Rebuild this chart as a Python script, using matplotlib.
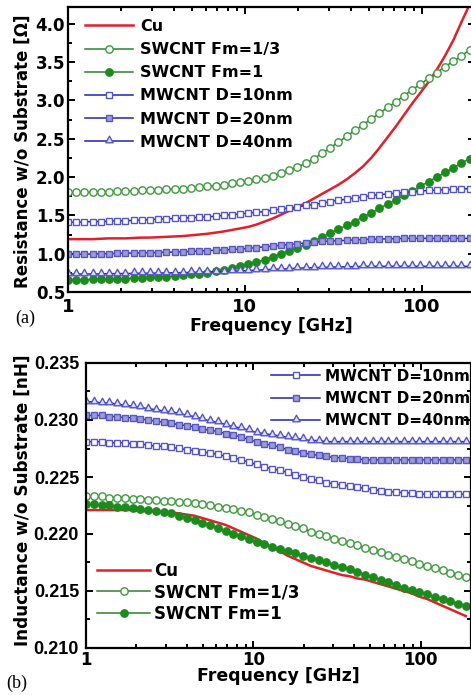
import matplotlib
matplotlib.use("Agg")
import matplotlib.pyplot as plt
from matplotlib.ticker import MultipleLocator, FixedLocator, LogLocator, NullFormatter, FormatStrFormatter
from matplotlib.path import Path

# ---------------- data ----------------
freq_ghz = [1.000, 1.113, 1.238, 1.377, 1.532, 1.705, 1.897, 2.110, 2.348, 2.612,
            2.906, 3.233, 3.597, 4.002, 4.453, 4.954, 5.512, 6.133, 6.823, 7.591,
            8.445, 9.395, 10.45, 11.63, 12.94, 14.39, 16.02, 17.82, 19.82, 22.06,
            24.54, 27.30, 30.38, 33.80, 37.60, 41.83, 46.55, 51.79, 57.61, 64.10,
            71.32, 79.35, 88.28, 98.18, 109.2, 121.5, 135.2, 150.4, 167.4, 186.2]

# (a) resistance [Ohm]
res_cu = [1.19, 1.19, 1.19, 1.19, 1.195, 1.20, 1.20, 1.20, 1.205, 1.21,
          1.21, 1.215, 1.22, 1.225, 1.23, 1.24, 1.25, 1.26, 1.275, 1.29,
          1.31, 1.33, 1.35, 1.38, 1.42, 1.46, 1.51, 1.56, 1.61, 1.66,
          1.72, 1.78, 1.84, 1.90, 1.97, 2.05, 2.14, 2.25, 2.38, 2.52,
          2.66, 2.81, 2.96, 3.10, 3.24, 3.40, 3.58, 3.78, 4.02, 4.25]
res_sw13 = [1.80, 1.80, 1.80, 1.805, 1.81, 1.81, 1.815, 1.82, 1.82, 1.825,
            1.83, 1.835, 1.84, 1.845, 1.85, 1.86, 1.87, 1.88, 1.89, 1.90,
            1.92, 1.93, 1.95, 1.97, 1.99, 2.02, 2.05, 2.09, 2.13, 2.18,
            2.24, 2.31, 2.38, 2.46, 2.53, 2.61, 2.68, 2.76, 2.83, 2.91,
            2.98, 3.06, 3.14, 3.21, 3.29, 3.36, 3.44, 3.51, 3.58, 3.66]
res_sw1 = [0.66, 0.66, 0.66, 0.665, 0.665, 0.67, 0.67, 0.675, 0.68, 0.685,
           0.69, 0.695, 0.70, 0.71, 0.72, 0.73, 0.74, 0.75, 0.77, 0.79,
           0.81, 0.84, 0.86, 0.89, 0.92, 0.96, 1.00, 1.04, 1.08, 1.12,
           1.17, 1.22, 1.27, 1.32, 1.37, 1.42, 1.48, 1.53, 1.59, 1.65,
           1.70, 1.76, 1.82, 1.88, 1.94, 2.00, 2.06, 2.12, 2.18, 2.24]
res_mw10 = [1.41, 1.41, 1.415, 1.42, 1.42, 1.425, 1.43, 1.43, 1.435, 1.44,
            1.445, 1.45, 1.455, 1.46, 1.465, 1.47, 1.475, 1.48, 1.49, 1.50,
            1.51, 1.52, 1.53, 1.54, 1.55, 1.57, 1.58, 1.60, 1.61, 1.63,
            1.64, 1.66, 1.68, 1.70, 1.71, 1.73, 1.74, 1.76, 1.77, 1.78,
            1.79, 1.80, 1.81, 1.82, 1.825, 1.83, 1.835, 1.84, 1.845, 1.85]
res_mw20 = [0.99, 0.99, 0.995, 0.995, 1.00, 1.00, 1.005, 1.005, 1.01, 1.01,
            1.015, 1.015, 1.02, 1.02, 1.025, 1.03, 1.035, 1.04, 1.045, 1.05,
            1.055, 1.06, 1.07, 1.08, 1.09, 1.10, 1.11, 1.12, 1.13, 1.14,
            1.15, 1.16, 1.165, 1.17, 1.175, 1.18, 1.185, 1.19, 1.19, 1.195,
            1.195, 1.20, 1.20, 1.20, 1.20, 1.20, 1.20, 1.20, 1.20, 1.20]
res_mw40 = [0.735, 0.735, 0.735, 0.735, 0.737, 0.739, 0.740, 0.741, 0.743, 0.745,
            0.745, 0.747, 0.749, 0.751, 0.753, 0.755, 0.757, 0.760, 0.763, 0.765,
            0.770, 0.775, 0.780, 0.785, 0.790, 0.795, 0.800, 0.805, 0.810, 0.815,
            0.818, 0.821, 0.825, 0.827, 0.829, 0.831, 0.833, 0.835, 0.835, 0.835,
            0.835, 0.835, 0.835, 0.835, 0.835, 0.835, 0.835, 0.835, 0.835, 0.835]

# (b) inductance [nH]
ind_cu = [0.2221, 0.2221, 0.2221, 0.2221, 0.2221, 0.2221, 0.2221, 0.2220, 0.2220, 0.2220,
          0.2219, 0.2219, 0.2218, 0.2217, 0.2216, 0.2214, 0.2212, 0.2210, 0.2208, 0.2205,
          0.2202, 0.2199, 0.2196, 0.2192, 0.2188, 0.2185, 0.2181, 0.2178, 0.2175, 0.2172,
          0.2170, 0.2168, 0.2166, 0.2164, 0.2163, 0.2161, 0.2160, 0.2158, 0.2156, 0.2154,
          0.2152, 0.2150, 0.2148, 0.2145, 0.2143, 0.2140, 0.2137, 0.2134, 0.2131, 0.2128]
ind_sw13 = [0.2233, 0.2233, 0.2233, 0.2232, 0.2232, 0.2232, 0.2231, 0.2231, 0.2230, 0.2230,
            0.2229, 0.2229, 0.2228, 0.2228, 0.2227, 0.2226, 0.2225, 0.2224, 0.2223, 0.2222,
            0.2220, 0.2219, 0.2217, 0.2215, 0.2213, 0.2211, 0.2209, 0.2207, 0.2205, 0.2202,
            0.2200, 0.2198, 0.2196, 0.2194, 0.2192, 0.2190, 0.2188, 0.2186, 0.2184, 0.2182,
            0.2180, 0.2178, 0.2176, 0.2174, 0.2172, 0.2170, 0.2168, 0.2166, 0.2164, 0.2162]
ind_sw1 = [0.2226, 0.2226, 0.2225, 0.2225, 0.2224, 0.2224, 0.2223, 0.2222, 0.2221, 0.2220,
           0.2219, 0.2218, 0.2216, 0.2214, 0.2212, 0.2210, 0.2208, 0.2205, 0.2203, 0.2200,
           0.2198, 0.2196, 0.2193, 0.2191, 0.2189, 0.2187, 0.2185, 0.2183, 0.2181, 0.2179,
           0.2177, 0.2175, 0.2173, 0.2171, 0.2169, 0.2167, 0.2164, 0.2162, 0.2160, 0.2158,
           0.2155, 0.2153, 0.2151, 0.2149, 0.2147, 0.2145, 0.2143, 0.2141, 0.2139, 0.2137]
ind_mw10 = [0.2281, 0.2281, 0.2281, 0.2280, 0.2280, 0.2280, 0.2279, 0.2279, 0.2278, 0.2277,
            0.2277, 0.2276, 0.2275, 0.2274, 0.2273, 0.2272, 0.2271, 0.2270, 0.2268, 0.2267,
            0.2265, 0.2263, 0.2261, 0.2259, 0.2257, 0.2256, 0.2254, 0.2252, 0.2250, 0.2248,
            0.2247, 0.2245, 0.2244, 0.2243, 0.2242, 0.2241, 0.2240, 0.2239, 0.2238, 0.2237,
            0.2237, 0.2236, 0.2236, 0.2235, 0.2235, 0.2235, 0.2235, 0.2235, 0.2235, 0.2235]
ind_mw20 = [0.2304, 0.2304, 0.2304, 0.2303, 0.2303, 0.2302, 0.2302, 0.2301, 0.2300, 0.2299,
            0.2298, 0.2297, 0.2296, 0.2295, 0.2294, 0.2292, 0.2291, 0.2290, 0.2288, 0.2287,
            0.2285, 0.2283, 0.2281, 0.2279, 0.2278, 0.2276, 0.2274, 0.2273, 0.2271, 0.2270,
            0.2269, 0.2268, 0.2267, 0.2267, 0.2266, 0.2266, 0.2265, 0.2265, 0.2265, 0.2265,
            0.2265, 0.2265, 0.2265, 0.2265, 0.2265, 0.2265, 0.2265, 0.2265, 0.2265, 0.2265]
ind_mw40 = [0.2316, 0.2316, 0.2315, 0.2315, 0.2314, 0.2313, 0.2312, 0.2311, 0.2310, 0.2309,
            0.2308, 0.2307, 0.2306, 0.2304, 0.2303, 0.2301, 0.2299, 0.2298, 0.2296, 0.2294,
            0.2293, 0.2291, 0.2289, 0.2288, 0.2287, 0.2286, 0.2285, 0.2284, 0.2283, 0.2282,
            0.2282, 0.2281, 0.2281, 0.2281, 0.2281, 0.2281, 0.2281, 0.2281, 0.2281, 0.2281,
            0.2281, 0.2281, 0.2281, 0.2281, 0.2281, 0.2281, 0.2281, 0.2281, 0.2281, 0.2281]

label_cu = "Cu"
label_sw13 = "SWCNT Fm=1/3"
label_sw1 = "SWCNT Fm=1"
label_mw10 = "MWCNT D=10nm"
label_mw20 = "MWCNT D=20nm"
label_mw40 = "MWCNT D=40nm"
xticks = [1, 10, 100]
xticklabels = ["1", "10", "100"]

# ---------------- style ----------------
SANS = ['DejaVu Sans']
NARROW = ['Liberation Sans', 'DejaVu Sans']
plt.rcParams['font.family'] = SANS
plt.rcParams['font.weight'] = 'bold'

C_RED = '#e3202a'
C_GL = '#2f7f2f'
C_GM = '#3f9a3f'
C_GF = '#1b8c1b'
C_BL = '#2323b0'
C_BM = '#5656c6'
C_BF20 = '#9c9cd2'
C_BF40 = '#dedef6'

# triangle marker with its base near the data point (line runs along the base)
tri = Path([(-1.0, -0.35), (1.0, -0.35), (0.0, 1.45), (-1.0, -0.35)],
           [Path.MOVETO, Path.LINETO, Path.LINETO, Path.CLOSEPOLY])

W, H = 471, 695
fig = plt.figure(figsize=(W / 100, H / 100), dpi=100)

def px_axes(l, t, r, b):
    return fig.add_axes([l / W, 1 - b / H, (r - l) / W, (b - t) / H])

axA = px_axes(68, 7, 475, 292)
axB = px_axes(86, 363, 471, 648)

def style(ax, ymin, ymax, ymaj, ymin_step, yfmt, yfont, ysize, xsize, xpad, ypad):
    ax.set_xscale('log')
    ax.set_xlim(1, 200)
    ax.set_ylim(ymin, ymax)
    ax.xaxis.set_major_locator(FixedLocator(xticks))
    ax.set_xticklabels(xticklabels)
    ax.xaxis.set_minor_locator(LogLocator(base=10, subs=range(2, 10)))
    ax.xaxis.set_minor_formatter(NullFormatter())
    ax.yaxis.set_major_locator(MultipleLocator(ymaj))
    ax.yaxis.set_minor_locator(MultipleLocator(ymin_step))
    ax.yaxis.set_major_formatter(FormatStrFormatter(yfmt))
    ax.tick_params(which='both', direction='in', top=True, right=True, width=1.4)
    ax.tick_params(which='major', length=5)
    ax.tick_params(which='minor', length=3)
    ax.tick_params(axis='x', pad=xpad)
    ax.tick_params(axis='y', pad=ypad)
    for s in ax.spines.values():
        s.set_linewidth(1.6)
    for lab in ax.get_xticklabels():
        lab.set_fontweight('bold')
        lab.set_fontsize(xsize)
        lab.set_family(SANS)
    for lab in ax.get_yticklabels():
        lab.set_fontweight('bold')
        lab.set_fontsize(ysize)
        lab.set_family(yfont)

lw = 1.1

def draw(ax, cu, sw13, sw1, mw10, mw20, mw40):
    h = []
    h.append(ax.plot(freq_ghz, cu, color=C_RED, lw=1.8, label=label_cu)[0])
    h.append(ax.plot(freq_ghz, sw13, color=C_GL, lw=lw, marker='o', ms=5.3, mfc='white',
                     mec=C_GM, mew=1.0, label=label_sw13)[0])
    h.append(ax.plot(freq_ghz, sw1, color=C_GL, lw=lw, marker='o', ms=5.3, mfc=C_GF,
                     mec=C_GF, mew=1.0, label=label_sw1)[0])
    h.append(ax.plot(freq_ghz, mw10, color=C_BL, lw=lw, marker='s', ms=4.8, mfc='white',
                     mec=C_BM, mew=1.0, label=label_mw10)[0])
    h.append(ax.plot(freq_ghz, mw20, color=C_BL, lw=lw, marker='s', ms=4.8, mfc=C_BF20,
                     mec=C_BM, mew=1.0, label=label_mw20)[0])
    h.append(ax.plot(freq_ghz, mw40, color=C_BL, lw=lw, marker=tri, ms=7.6, mfc=C_BF40,
                     mec=C_BM, mew=1.0, label=label_mw40)[0])
    return h

# ---- (a) ----
hA = draw(axA, res_cu, res_sw13, res_sw1, res_mw10, res_mw20, res_mw40)
style(axA, 0.5, 4.22, 0.5, 0.25, '%.1f', SANS, 12, 13, 4.5, 2)
axA.set_ylabel("Resistance w/o Substrate [Ω]", fontsize=12, fontweight='bold')
axA.yaxis.set_label_coords(-0.089, 0.495)
axA.set_xlabel("Frequency [GHz]", fontsize=12.5, fontweight='bold', va='top')
axA.xaxis.set_label_coords(0.5, -0.088)
axA.legend(handles=hA, loc='upper left', bbox_to_anchor=(0.042, 0.958), frameon=False,
           borderpad=0, borderaxespad=0, handlelength=3.0,
           handletextpad=0.44, labelspacing=0.51, prop={'weight': 'bold', 'size': 11.5})

# ---- (b) ----
hB = draw(axB, ind_cu, ind_sw13, ind_sw1, ind_mw10, ind_mw20, ind_mw40)
style(axB, 0.210, 0.235, 0.005, 0.0025, '%.3f', NARROW, 13, 12, 2, 5)
axB.set_ylabel("Inductance w/o Substrate [nH]", fontsize=12.2, fontweight='bold')
axB.yaxis.set_label_coords(-0.140, 0.52)
axB.set_xlabel("Frequency [GHz]", fontsize=12.5, fontweight='bold', va='top')
axB.xaxis.set_label_coords(0.5, -0.068)

legB1 = axB.legend(handles=hB[3:], loc='upper right', bbox_to_anchor=(0.997, 0.98),
                   frameon=False, borderpad=0, borderaxespad=0, handlelength=3.2,
                   handletextpad=0.3, labelspacing=0.47, prop={'weight': 'bold', 'size': 11})
axB.add_artist(legB1)
axB.legend(handles=hB[:3], loc='lower left', bbox_to_anchor=(0.029, 0.089),
           frameon=False, borderpad=0, borderaxespad=0, handlelength=3.2,
           handletextpad=0.2, labelspacing=0.2, prop={'weight': 'bold', 'size': 12})

fig.text(15 / W, 1 - 318 / H, "(a)", family='Liberation Serif', fontweight='normal',
         fontsize=13, ha='left', va='center')
fig.text(6 / W, 1 - 683 / H, "(b)", family='Liberation Serif', fontweight='normal',
         fontsize=13, ha='left', va='center')

fig.savefig("out.png", dpi=100)
